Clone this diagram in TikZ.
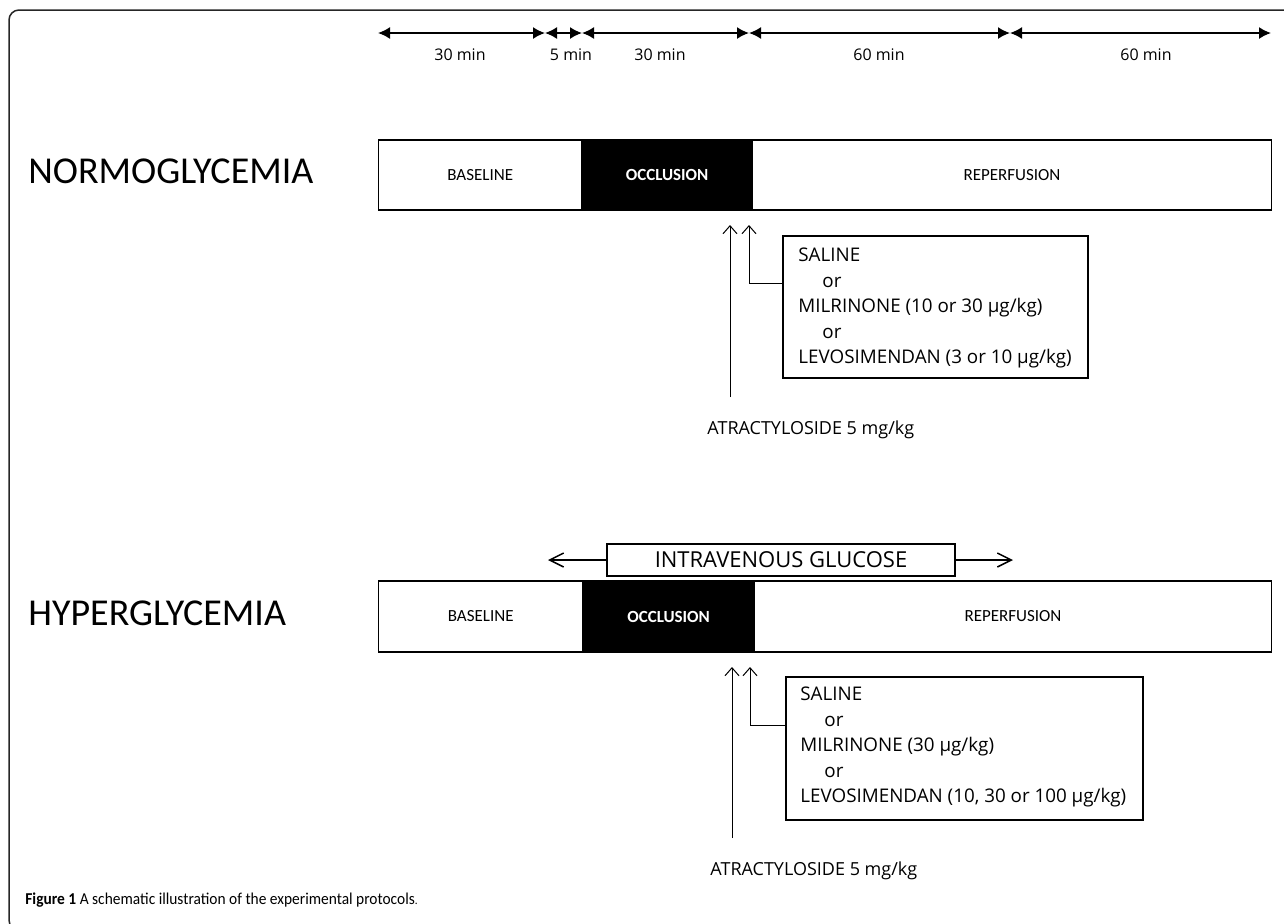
\documentclass[tikz,border=0pt]{standalone}
\usepackage{fontspec}
\usepackage{graphicx}
\setmainfont{Carlito}
\newfontfamily\osans{Open Sans}
\usetikzlibrary{arrows.meta}
\begin{document}
\begin{tikzpicture}[x=0.5pt,y=-0.5pt]
\tikzset{
  seg/.style={draw, line width=0.7pt, inner sep=0pt, anchor=west, font=\fontsize{8.5}{10}\selectfont},
  occ/.style={seg, fill=black, text=white, font=\fontsize{8.5}{10}\selectfont\bfseries},
  tline/.style={line width=0.8pt, {Latex[length=6pt,width=6pt]}-{Latex[length=6pt,width=6pt]}},
  tlab/.style={font=\osans\fontsize{8}{10}\selectfont, inner sep=0pt},
  grp/.style={font=\fontsize{19}{22}\selectfont, anchor=west, inner sep=0pt},
  dbox/.style={draw, line width=0.7pt, inner sep=0pt},
  dtext/.style={align=left, anchor=west, inner sep=0pt, font=\osans\fontsize{9.4}{12.75}\selectfont},
  uparr/.style={-{Straight Barb[length=4pt,width=7pt]}, line width=0.5pt},
  ivarr/.style={-{Straight Barb[length=7pt,width=7pt]}, line width=0.75pt},
  atr/.style={font=\osans\fontsize{9}{11}\selectfont, anchor=west, inner sep=0pt}
}
\useasboundingbox (0,0) rectangle (1284,923);
% frame
\draw[line width=0.75pt, rounded corners=5pt, black!85] (9,10) rectangle (1300,930);

% timeline
\coordinate (t0) at (378,33);
\coordinate (t1) at (545,33);
\coordinate (t2) at (582,33);
\coordinate (t3) at (749,33);
\coordinate (t4) at (1010,33);
\coordinate (t5) at (1271,33);
\draw[tline] (t0) -- (t1);
\draw[tline] (t1) -- (t2);
\draw[tline] (t2) -- (t3);
\draw[tline] (t3) -- (t4);
\draw[tline] (t4) -- (t5);
\node[tlab] (l1) at (460,55) {30 min};
\node[tlab] (l2) at (571,55) {5 min};
\node[tlab] (l3) at (660,55) {30 min};
\node[tlab] (l4) at (879,55) {60 min};
\node[tlab] (l5) at (1146,55) {60 min};

% normoglycemia
\node[grp] (ng) at (28,171) {NORMOGLYCEMIA};
\node[seg, minimum width=101.5pt, minimum height=35pt] (nb) at (378,175) {BASELINE};
\node[occ, minimum width=84pt, minimum height=35pt] (no) at (nb.east) {OCCLUSION};
\node[seg, minimum width=259.5pt, minimum height=35pt] (nr) at (no.east) {REPERFUSION};

\node[dbox, minimum width=152.5pt, minimum height=71pt] (nbox) at (935.5,307) {};
\node[dtext] (ntext) at (798,308) {SALINE\\
\hspace*{12pt}or\\
MILRINONE (10 or 30 µg/kg)\\
\hspace*{12pt}or\\
LEVOSIMENDAN (3 or 10 µg/kg)};
\coordinate (na1) at (730,225);
\coordinate (na1s) at (730,397);
\coordinate (na2) at (749,225);
\draw[uparr] (na1s) -- (na1);
\draw[uparr] ([yshift=12pt]nbox.west) -| (na2);
\node[atr] (natr) at (707,430) {ATRACTYLOSIDE 5 mg/kg};

% hyperglycemia
\node[draw, line width=0.75pt, minimum width=174pt, minimum height=16pt, inner sep=0pt, font=\osans\fontsize{11}{13}\selectfont] (iv) at (781,560) {INTRAVENOUS GLUCOSE};
\coordinate (ivl) at (548,560);
\coordinate (ivr) at (1013,560);
\draw[ivarr] (iv.west) -- (ivl);
\draw[ivarr] (iv.east) -- (ivr);

\node[grp] (hg) at (28,613) {HYPERGLYCEMIA};
\node[seg, minimum width=102pt, minimum height=35.5pt] (hb) at (378,616.5) {BASELINE};
\node[occ, minimum width=84.5pt, minimum height=35.5pt] (ho) at (hb.east) {OCCLUSION};
\node[seg, minimum width=258.5pt, minimum height=35.5pt] (hr) at (ho.east) {REPERFUSION};

\node[dbox, minimum width=178.5pt, minimum height=71.5pt] (hbox) at (964.5,748.5) {};
\node[dtext] (htext) at (800,747) {SALINE\\
\hspace*{12pt}or\\
MILRINONE (30 µg/kg)\\
\hspace*{12pt}or\\
LEVOSIMENDAN (10, 30 or 100 µg/kg)};
\coordinate (ha1) at (732,667);
\coordinate (ha1s) at (732,838);
\coordinate (ha2) at (750,667);
\draw[uparr] (ha1s) -- (ha1);
\draw[uparr] ([yshift=11.75pt]hbox.west) -| (ha2);
\node[atr] (hatr) at (710,871) {ATRACTYLOSIDE 5 mg/kg};

% caption
\node[anchor=west, inner sep=0pt, font=\fontsize{8.3}{10}\selectfont] (cap) at (25,900) {\scalebox{0.93}[1]{\textbf{Figure 1} A schematic illustration of the experimental protocols{\fontsize{6}{7}\selectfont.}}};
\end{tikzpicture}
\end{document}
